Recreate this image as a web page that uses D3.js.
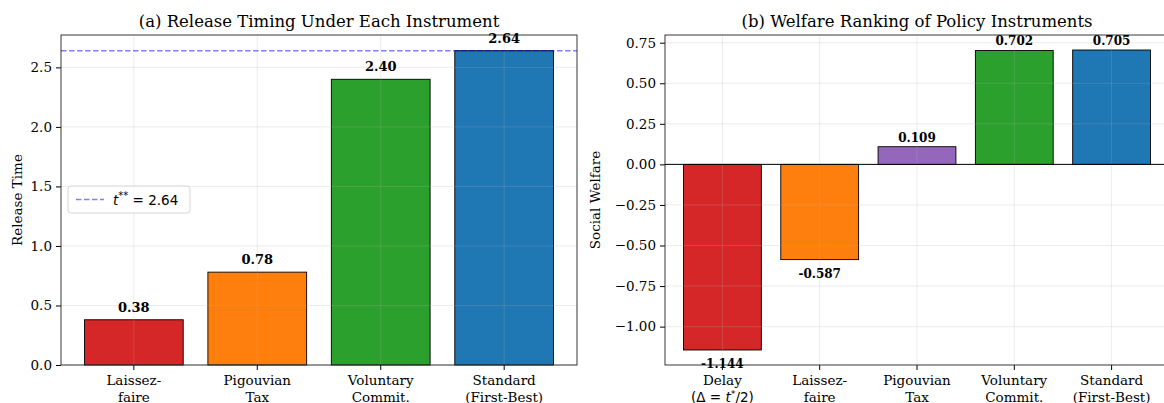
<!DOCTYPE html>
<html>
<head>
<meta charset="utf-8">
<script src="https://cdn.jsdelivr.net/npm/d3@7"></script>
<style>
  body { margin: 0; background: #fff; overflow: hidden; }
  svg { display: block; font-family: "DejaVu Serif", serif; }
</style>
</head>
<body>
<div id="chart"></div>
<script>
// panel (a) data
const timingCats = [["Laissez-", "faire"], ["Pigouvian", "Tax"], ["Voluntary", "Commit."], ["Standard", "(First-Best)"]];
const timingVals = [0.38, 0.78, 2.40, 2.64];
const timingColors = ["#d62728", "#ff7f0e", "#2ca02c", "#1f77b4"];
const tStarStar = 2.64;
const timingTicks = [0, 0.5, 1.0, 1.5, 2.0, 2.5];

// panel (b) data
const welfareCats = [["Delay", "DELTA"], ["Laissez-", "faire"], ["Pigouvian", "Tax"], ["Voluntary", "Commit."], ["Standard", "(First-Best)"]];
const welfareVals = [-1.144, -0.587, 0.109, 0.702, 0.705];
const welfareColors = ["#d62728", "#ff7f0e", "#9467bd", "#2ca02c", "#1f77b4"];
const welfareTicks = [-1.0, -0.75, -0.5, -0.25, 0, 0.25, 0.5, 0.75];

const width = 1164, height = 403;
const svg = d3.select("#chart").append("svg")
  .attr("width", width)
  .attr("height", height);

const minus = s => s.replace("-", "\u2212");

function panel(opts) {
  const { x0, x1, y0, y1, cats, vals, colors, yDomain, ticks, fmt, title, ylabel, ylabelX } = opts;
  const n = cats.length;
  const x = d3.scaleLinear().domain([-0.59, n - 1 + 0.59]).range([x0, x1]);
  const y = d3.scaleLinear().domain(yDomain).range([y1, y0]);
  const bw = x(0.8) - x(0);
  const g = svg.append("g");

  // bars
  g.selectAll("rect.bar")
    .data(vals)
    .enter()
    .append("rect")
    .attr("class", "bar")
    .attr("x", (d, i) => x(i) - bw / 2)
    .attr("y", d => y(Math.max(0, d)))
    .attr("width", bw)
    .attr("height", d => Math.abs(y(d) - y(0)))
    .attr("fill", (d, i) => colors[i])
    .attr("stroke", "#000")
    .attr("stroke-width", 0.9);

  // grid on top (matplotlib draws it above with alpha)
  g.selectAll("line.hgrid")
    .data(ticks)
    .enter()
    .append("line")
    .attr("x1", x0).attr("x2", x1)
    .attr("y1", d => y(d)).attr("y2", d => y(d))
    .attr("stroke", "#b0b0b0").attr("stroke-opacity", 0.3).attr("stroke-width", 0.8);
  g.selectAll("line.vgrid")
    .data(d3.range(n))
    .enter()
    .append("line")
    .attr("x1", d => x(d)).attr("x2", d => x(d))
    .attr("y1", y0).attr("y2", y1)
    .attr("stroke", "#b0b0b0").attr("stroke-opacity", 0.3).attr("stroke-width", 0.8);

  // y axis
  const yAxis = g.append("g")
    .attr("transform", `translate(${x0},0)`)
    .call(d3.axisLeft(y).tickValues(ticks).tickFormat(fmt).tickSize(5).tickPadding(4));
  yAxis.select(".domain").remove();
  yAxis.selectAll("text").attr("font-family", "DejaVu Serif").attr("font-size", 13.5).attr("fill", "#000");
  yAxis.selectAll("line").attr("stroke", "#000");

  // x axis ticks + two-line labels
  const xAxis = g.append("g").attr("transform", `translate(0,${y1})`);
  xAxis.selectAll("line")
    .data(d3.range(n))
    .enter()
    .append("line")
    .attr("x1", d => x(d)).attr("x2", d => x(d))
    .attr("y1", 0).attr("y2", 5)
    .attr("stroke", "#000");
  cats.forEach((c, i) => {
    const t = xAxis.append("text")
      .attr("x", x(i))
      .attr("text-anchor", "middle")
      .attr("font-size", 13.5)
      .attr("fill", "#000");
    t.append("tspan").attr("x", x(i)).attr("y", 20).text(c[0]);
    if (c[1] === "DELTA") {
      const l2 = t.append("tspan").attr("x", x(i)).attr("y", 36.5);
      l2.append("tspan").attr("font-family", "DejaVu Sans").text("(\u0394 = ");
      l2.append("tspan").attr("font-family", "DejaVu Sans").attr("font-style", "italic").text("t");
      l2.append("tspan").attr("font-family", "DejaVu Sans").attr("font-size", 9.5).attr("dy", -5).text("*");
      l2.append("tspan").attr("font-family", "DejaVu Sans").attr("dy", 5).text("/2)");
    } else {
      t.append("tspan").attr("x", x(i)).attr("y", 36.5).text(c[1]);
    }
  });

  // frame
  g.append("rect")
    .attr("x", x0).attr("y", y0)
    .attr("width", x1 - x0).attr("height", y1 - y0)
    .attr("fill", "none").attr("stroke", "#222").attr("stroke-width", 0.9);

  // title
  g.append("text")
    .attr("x", (x0 + x1) / 2).attr("y", y0 - 8)
    .attr("text-anchor", "middle")
    .attr("font-size", 16.5)
    .text(title);

  // y label
  g.append("text")
    .attr("transform", `translate(${ylabelX},${(y0 + y1) / 2}) rotate(-90)`)
    .attr("text-anchor", "middle")
    .attr("font-size", 13.5)
    .text(ylabel);

  return { g, x, y };
}

// (a)
const a = panel({
  x0: 61, x1: 577, y0: 35, y1: 365,
  cats: timingCats, vals: timingVals, colors: timingColors,
  yDomain: [0, 2.772], ticks: timingTicks, fmt: d3.format(".1f"),
  title: "(a) Release Timing Under Each Instrument",
  ylabel: "Release Time", ylabelX: 22
});

a.g.append("line")
  .attr("x1", 61).attr("x2", 577)
  .attr("y1", a.y(tStarStar)).attr("y2", a.y(tStarStar))
  .attr("stroke", "#0000ff").attr("stroke-opacity", 0.5)
  .attr("stroke-width", 1.5).attr("stroke-dasharray", "5.5,2.5");

a.g.selectAll("text.val")
  .data(timingVals)
  .enter()
  .append("text")
  .attr("class", "val")
  .attr("x", (d, i) => a.x(i))
  .attr("y", d => a.y(d) - 8)
  .attr("text-anchor", "middle")
  .attr("font-size", 13)
  .attr("font-weight", "bold")
  .text(d => d.toFixed(2));

// legend
const leg = a.g.append("g").attr("transform", "translate(68,186)");
leg.append("rect")
  .attr("width", 122).attr("height", 27).attr("rx", 3)
  .attr("fill", "#fff").attr("fill-opacity", 0.8)
  .attr("stroke", "#d0d0d0").attr("stroke-width", 0.9);
leg.append("line")
  .attr("x1", 8).attr("x2", 36).attr("y1", 13.5).attr("y2", 13.5)
  .attr("stroke", "#0000ff").attr("stroke-opacity", 0.5)
  .attr("stroke-width", 1.5).attr("stroke-dasharray", "5.5,2.5");
const lt = leg.append("text")
  .attr("x", 45).attr("y", 19)
  .attr("font-family", "DejaVu Sans").attr("font-size", 13.5);
lt.append("tspan").attr("font-style", "italic").text("t");
lt.append("tspan").attr("font-size", 10).attr("dy", -6).text("**");
lt.append("tspan").attr("dy", 6).text(" = " + tStarStar.toFixed(2));

// (b) - right edge of this axes runs past the figure edge
const b = panel({
  x0: 665, x1: 1169, y0: 35, y1: 365,
  cats: welfareCats, vals: welfareVals, colors: welfareColors,
  yDomain: [-1.2365, 0.7975], ticks: welfareTicks, fmt: d => minus(d3.format(".2f")(d)),
  title: "(b) Welfare Ranking of Policy Instruments",
  ylabel: "Social Welfare", ylabelX: 600
});

b.g.append("line")
  .attr("x1", 665).attr("x2", 1169)
  .attr("y1", b.y(0)).attr("y2", b.y(0))
  .attr("stroke", "#000").attr("stroke-width", 1);

b.g.selectAll("text.val")
  .data(welfareVals)
  .enter()
  .append("text")
  .attr("class", "val")
  .attr("x", (d, i) => b.x(i))
  .attr("y", d => d >= 0 ? b.y(d) - 5 : b.y(d) + 18)
  .attr("text-anchor", "middle")
  .attr("font-size", 12)
  .attr("font-weight", "bold")
  .text(d => d.toFixed(3));
</script>
</body>
</html>
